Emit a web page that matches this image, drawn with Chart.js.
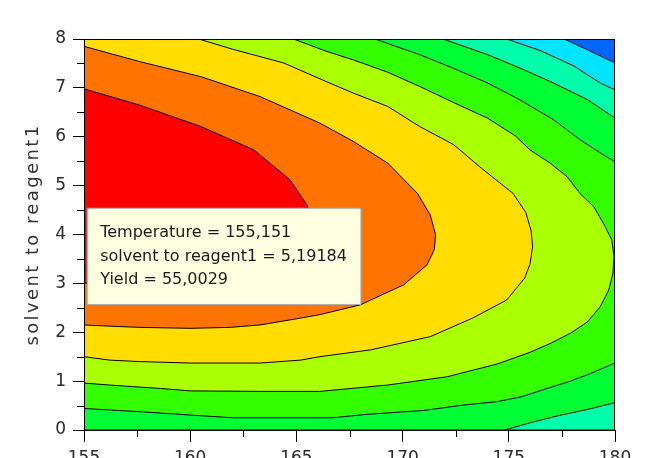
<!DOCTYPE html>
<html>
<head>
<meta charset="utf-8">
<title>Yield contour</title>
<script src="https://cdn.jsdelivr.net/npm/chart.js@4.4.1/dist/chart.umd.min.js"></script>
<style>
    html, body { margin: 0; padding: 0; background: #fff; overflow: hidden; }
    #wrap { position: relative; width: 649px; height: 480px; }
</style>
</head>
<body>
<div id="wrap"><canvas id="contourChart"></canvas></div>
<script>
// axes
const temperatureRange = [155, 180];
const ratioRange = [0, 8];
const temperatureTicks = [155, 160, 165, 170, 175, 180];
const ratioTicks = [0, 1, 2, 3, 4, 5, 6, 7, 8];

// contour lines, [temperature, solvent to reagent1]
const lineRedOrange = [
    [155.0, 6.98], [157.6, 6.65], [160.5, 6.21], [163.0, 5.73], [164.7, 5.12], [165.5, 4.60],
    [165.8, 4.10], [165.6, 3.70], [164.8, 3.40], [162.8, 3.17], [160.0, 3.06], [157.5, 3.02], [155.0, 3.00]
];
const lineOrangeYellow = [
    [155.0, 7.85], [157.6, 7.54], [160.5, 7.23], [163.3, 6.82], [166.1, 6.28], [167.7, 5.90],
    [169.3, 5.46], [170.7, 4.84], [171.3, 4.40], [171.55, 4.00], [171.5, 3.70], [171.15, 3.38],
    [170.05, 2.97], [168.0, 2.56], [166.1, 2.36], [165.2, 2.29], [163.3, 2.15], [161.9, 2.10],
    [160.0, 2.08], [157.6, 2.10], [155.4, 2.14], [155.0, 2.15]
];
const lineYellowLime = [
    [160.4, 8.00], [162.0, 7.79], [164.4, 7.51], [166.4, 7.13], [167.7, 6.89], [169.3, 6.62],
    [170.8, 6.21], [172.4, 5.84], [173.7, 5.36], [175.2, 4.84], [175.8, 4.45], [176.05, 4.08],
    [176.12, 3.75], [176.0, 3.40], [175.75, 3.11], [174.9, 2.66], [173.3, 2.29], [171.3, 1.91],
    [168.5, 1.64], [166.1, 1.50], [165.2, 1.43], [163.3, 1.37], [160.0, 1.37], [157.6, 1.40],
    [156.2, 1.43], [155.0, 1.50]
];
const lineLimeGreen = [
    [164.86, 8.00], [166.4, 7.75], [167.7, 7.57], [169.3, 7.32], [170.8, 7.03], [172.4, 6.70],
    [174.0, 6.38], [175.3, 6.02], [176.0, 5.73], [176.95, 5.46], [177.75, 5.18], [178.35, 4.84],
    [179.0, 4.57], [179.45, 4.23], [179.85, 3.89], [179.95, 3.55], [179.9, 3.20], [179.7, 2.86],
    [179.3, 2.52], [178.7, 2.21], [177.9, 1.98], [177.0, 1.78], [176.0, 1.59], [174.45, 1.35],
    [172.1, 1.09], [169.3, 0.92], [166.1, 0.79], [163.3, 0.79], [160.0, 0.80], [158.6, 0.85],
    [156.2, 0.92], [155.0, 0.96]
];
const lineGreenTop = [
    [168.7, 8.00], [170.8, 7.68], [172.4, 7.40], [174.0, 7.10], [175.5, 6.76], [177.1, 6.35],
    [178.35, 5.94], [179.6, 5.59], [180.0, 5.49]
];
const lineGreenBottom = [
    [180.0, 1.37], [178.7, 1.13], [177.9, 1.00], [176.8, 0.85], [175.6, 0.68], [174.45, 0.58],
    [172.85, 0.51], [171.0, 0.40], [168.3, 0.32], [166.7, 0.25], [162.0, 0.25], [160.2, 0.30],
    [157.8, 0.37], [155.0, 0.44]
];
const lineAquaTop = [[171.9, 8.00], [174.0, 7.68], [175.5, 7.41], [177.1, 7.10], [178.7, 6.76], [180.0, 6.38]];
const lineAquaBottom = [[180.0, 0.56], [178.7, 0.42], [177.4, 0.30], [176.1, 0.16], [174.8, 0.00]];
const lineAquaCyan = [[174.9, 8.00], [176.5, 7.76], [178.05, 7.45], [179.3, 7.10], [180.0, 6.96]];
const lineCyanBlue = [[177.6, 8.00], [178.7, 7.78], [180.0, 7.51]];

// hovered point shown in the tooltip
const probeTemperature = [155.151];
const probeRatio = [5.19184];
const probeYield = [55.0029];

const bandColors = ['#ff0000', '#ff7300', '#ffdd00', '#aaff00', '#33ff00', '#00ff33', '#00ffaa', '#00e5ff', '#0066ff'];

const [xMin, xMax] = temperatureRange;
const [yMin, yMax] = ratioRange;

// each band is the region above one contour level, closed along the plot edges
const bandOutlines = [
    lineRedOrange,
    lineOrangeYellow,
    [...lineYellowLime, [xMin, yMax]],
    [...lineLimeGreen, [xMin, yMax]],
    [...lineGreenTop, ...lineGreenBottom, [xMin, yMax]],
    [...lineAquaTop, ...lineAquaBottom, [xMin, yMin], [xMin, yMax]],
    [...lineAquaCyan, [xMax, yMin], [xMin, yMin], [xMin, yMax]],
    [...lineCyanBlue, [xMax, yMin], [xMin, yMin], [xMin, yMax]],
    [[xMin, yMin], [xMax, yMin], [xMax, yMax], [xMin, yMax]],
];

const fmt = (v) => String(v).replace('.', ',');
const midpoints = (arr) => arr.slice(1).map((v, i) => (v + arr[i]) / 2);

Chart.defaults.font.family = 'DejaVu Sans';
Chart.defaults.color = '#2b2b2b';

Chart.Tooltip.positioners.probe = function (items) {
    if (!items.length) return false;
    const el = items[0].element;
    return { x: el.x, y: el.y + 32 };
};

const plotFrame = {
    id: 'plotFrame',
    beforeDraw(chart) {
        // only the axis title is drawn before the datasets (tick labels use z: 1)
        chart.ctx.letterSpacing = '2.4px';
    },
    beforeDatasetsDraw(chart) {
        chart.ctx.letterSpacing = '0px';
    },
    afterDatasetsDraw(chart) {
        const { ctx, chartArea: a, scales: { x, y } } = chart;
        ctx.save();
        ctx.strokeStyle = '#000';
        ctx.lineWidth = 1;
        ctx.strokeRect(a.left + 0.5, a.top + 0.5, a.right - a.left - 1, a.bottom - a.top);
        ctx.beginPath();
        midpoints(ratioTicks).forEach((v) => {
            const py = Math.round(y.getPixelForValue(v)) + 0.5;
            ctx.moveTo(a.left - 7, py);
            ctx.lineTo(a.left, py);
        });
        midpoints(temperatureTicks).forEach((v) => {
            const px = Math.round(x.getPixelForValue(v)) + 0.5;
            ctx.moveTo(px, a.bottom);
            ctx.lineTo(px, a.bottom + 7);
        });
        ctx.stroke();
        ctx.restore();
    },
};

const datasets = [
    {
        label: 'probe',
        data: probeTemperature.map((t, i) => ({ x: t, y: probeRatio[i] })),
        showLine: false,
        pointRadius: 0,
        pointHoverRadius: 0,
    },
    ...bandOutlines.map((pts, i) => ({
        label: 'band' + i,
        data: pts.map(([t, r]) => ({ x: t, y: r })),
        showLine: true,
        fill: 'shape',
        backgroundColor: bandColors[i],
        borderColor: '#000',
        borderWidth: 1,
        pointRadius: 0,
        pointHoverRadius: 0,
    })),
];

const chart = new Chart(document.getElementById('contourChart'), {
    type: 'scatter',
    data: { datasets },
    plugins: [plotFrame],
    options: {
        responsive: true,
        maintainAspectRatio: false,
        animation: false,
        events: [],
        layout: { padding: { top: 39, right: 34, left: 0, bottom: 0 } },
        plugins: {
            legend: { display: false },
            tooltip: {
                position: 'probe',
                xAlign: 'left',
                yAlign: 'top',
                caretSize: 0,
                caretPadding: 0,
                cornerRadius: 0,
                backgroundColor: '#ffffe1',
                borderColor: '#a9adb6',
                borderWidth: 1,
                bodyColor: '#1a1a1a',
                bodyFont: { family: 'DejaVu Sans', size: 16, lineHeight: 1.2 },
                bodySpacing: 4.3,
                padding: { top: 15, bottom: 15, left: 13, right: 14 },
                displayColors: false,
                filter: (item) => item.dataset.label === 'probe',
                callbacks: {
                    title: () => [],
                    label: (item) => [
                        `Temperature = ${fmt(probeTemperature[item.dataIndex])}`,
                        `solvent to reagent1 = ${fmt(probeRatio[item.dataIndex])}`,
                        `Yield = ${fmt(probeYield[item.dataIndex])}`,
                    ],
                },
            },
        },
        scales: {
            x: {
                type: 'linear',
                min: xMin,
                max: xMax,
                afterBuildTicks: (scale) => { scale.ticks = temperatureTicks.map((v) => ({ value: v })); },
                afterFit: (scale) => { scale.height = 50; },
                grid: { drawOnChartArea: false, tickLength: 12, color: '#000' },
                border: { color: '#000', width: 1 },
                ticks: { font: { size: 17 }, padding: 6, z: 1, color: '#2b2b2b' },
            },
            y: {
                min: yMin,
                max: yMax,
                afterBuildTicks: (scale) => { scale.ticks = ratioTicks.map((v) => ({ value: v })); },
                afterFit: (scale) => { scale.width = 84; },
                grid: { drawOnChartArea: false, tickLength: 11, color: '#000' },
                border: { color: '#000', width: 1 },
                ticks: { font: { size: 17 }, padding: 7, z: 1, color: '#2b2b2b' },
                title: {
                    display: true,
                    text: 'solvent to reagent1',
                    font: { size: 18 },
                    color: '#333',
                    padding: { top: 23, bottom: 0 },
                },
            },
        },
    },
});

chart.tooltip.setActiveElements([{ datasetIndex: 0, index: 0 }], { x: 0, y: 0 });
chart.update();
</script>
</body>
</html>
